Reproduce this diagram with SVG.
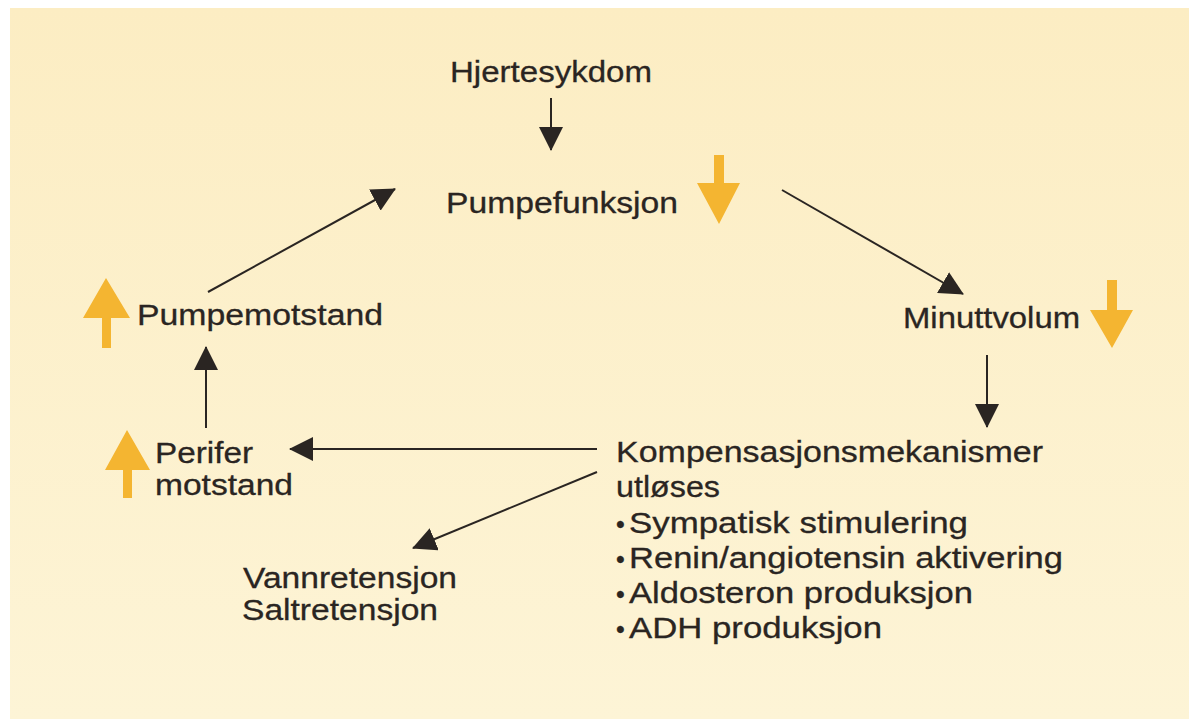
<svg xmlns="http://www.w3.org/2000/svg" width="1189" height="719" viewBox="0 0 1189 719">
<defs>
<linearGradient id="bg" x1="0" y1="0" x2="0" y2="1">
<stop offset="0" stop-color="#fcedc3"/>
<stop offset="1" stop-color="#fdf4d6"/>
</linearGradient>
<marker id="ah" markerUnits="userSpaceOnUse" markerWidth="24" markerHeight="24" refX="23" refY="12" orient="auto" viewBox="0 0 24 24">
<path d="M0,0 L24,12 L0,24 z" fill="#2a2522"/>
</marker>
<style>
text{font-family:"Liberation Sans",Arial,Helvetica,sans-serif;font-size:30px;fill:#2a2522;stroke:#2a2522;stroke-width:0.3}
.b{font-size:25px}
.c{stroke:#2a2522;stroke-width:2;fill:none;marker-end:url(#ah)}
.o{fill:#f4b531}
</style>
</defs>
<rect x="0" y="0" width="1189" height="719" fill="#ffffff"/>
<rect x="10" y="8" width="1179" height="711" fill="url(#bg)"/>

<g id="connectors">
<line class="c" x1="551" y1="98" x2="551" y2="150"/>
<line class="c" x1="782" y1="190" x2="963" y2="294"/>
<line class="c" x1="987" y1="355" x2="987" y2="427"/>
<line class="c" x1="597" y1="449" x2="290" y2="449"/>
<line class="c" x1="597" y1="472" x2="413" y2="548"/>
<line class="c" x1="206" y1="428" x2="206" y2="347"/>
<line class="c" x1="208" y1="292" x2="395" y2="189"/>
</g>

<g id="hjertesykdom">
<text x="450" y="82" textLength="202" lengthAdjust="spacingAndGlyphs">Hjertesykdom</text>
</g>

<g id="pumpefunksjon">
<text x="446" y="213" textLength="232" lengthAdjust="spacingAndGlyphs">Pumpefunksjon</text>
<path class="o" d="M714,155 H724 V183 H740 L719,224 L697,183 H714 Z"/>
</g>

<g id="minuttvolum">
<text x="903" y="328" textLength="177" lengthAdjust="spacingAndGlyphs">Minuttvolum</text>
<path class="o" d="M1107,280 H1117 V310 H1133 L1112,348 L1090,310 H1107 Z"/>
</g>

<g id="pumpemotstand">
<text x="137" y="325" textLength="246" lengthAdjust="spacingAndGlyphs">Pumpemotstand</text>
<path class="o" d="M102,348 H111 V318 H130 L106,278 L83,318 H102 Z"/>
</g>

<g id="perifer-motstand">
<text x="155" y="463" textLength="98" lengthAdjust="spacingAndGlyphs">Perifer</text>
<text x="155" y="495" textLength="138" lengthAdjust="spacingAndGlyphs">motstand</text>
<path class="o" d="M123,498 H132 V470 H150 L127,430 L105,470 H123 Z"/>
</g>

<g id="retensjon">
<text x="243" y="588" textLength="214" lengthAdjust="spacingAndGlyphs">Vannretensjon</text>
<text x="242" y="620" textLength="196" lengthAdjust="spacingAndGlyphs">Saltretensjon</text>
</g>

<g id="kompensasjon">
<text x="616" y="462" textLength="427" lengthAdjust="spacingAndGlyphs">Kompensasjonsmekanismer</text>
<text x="616" y="497" textLength="104" lengthAdjust="spacingAndGlyphs">utløses</text>
<text y="533"><tspan class="b" x="616">•</tspan><tspan x="629" textLength="339" lengthAdjust="spacingAndGlyphs">Sympatisk stimulering</tspan></text>
<text y="568"><tspan class="b" x="616">•</tspan><tspan x="629" textLength="434" lengthAdjust="spacingAndGlyphs">Renin/angiotensin aktivering</tspan></text>
<text y="603"><tspan class="b" x="616">•</tspan><tspan x="629" textLength="344" lengthAdjust="spacingAndGlyphs">Aldosteron produksjon</tspan></text>
<text y="638"><tspan class="b" x="616">•</tspan><tspan x="629" textLength="253" lengthAdjust="spacingAndGlyphs">ADH produksjon</tspan></text>
</g>
</svg>
